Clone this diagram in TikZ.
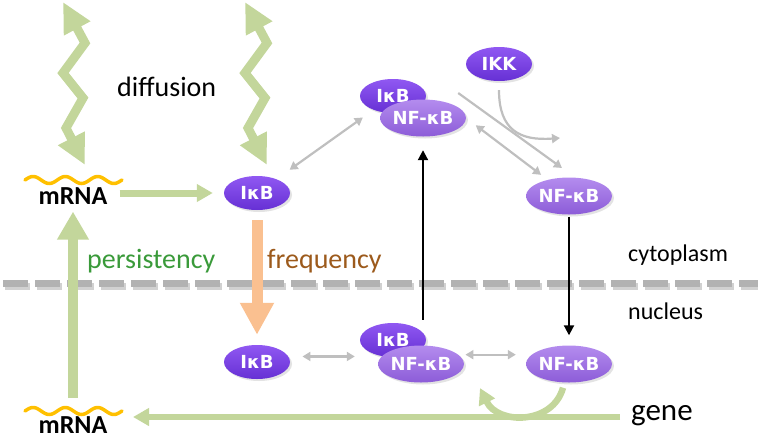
\documentclass[tikz,border=0pt]{standalone}
\usepackage{fontspec}
\setmainfont{Carlito}
\newfontfamily\protfont{DejaVu Sans}
\usetikzlibrary{shapes.geometric,arrows.meta,shadows}
\definecolor{leaf}{HTML}{C3D69B}
\definecolor{peach}{HTML}{FAC090}
\definecolor{ash}{HTML}{BFBFBF}
\definecolor{membrane}{HTML}{B2B2B2}
\definecolor{amber}{HTML}{FFC000}
\definecolor{moss}{HTML}{3A9A3A}
\definecolor{rust}{HTML}{9C5A1C}
\definecolor{grapetop}{HTML}{9058F2}
\definecolor{grapebot}{HTML}{6630D4}
\definecolor{lilactop}{HTML}{B48CEE}
\definecolor{lilacbot}{HTML}{8C5CD8}
\begin{document}
\begin{tikzpicture}[x=1pt, y=-1pt,
    prot/.style={ellipse, minimum width=66pt, minimum height=34pt, inner sep=0pt, text=white,
      font=\protfont\fontsize{18}{18}\selectfont\bfseries, top color=grapetop, bottom color=grapebot,
      drop shadow={opacity=0.22, shadow xshift=2pt, shadow yshift=-2pt}},
    nfkb/.style={prot, top color=lilactop, bottom color=lilacbot, minimum height=37pt},
    word/.style={anchor=base west, inner sep=0pt, font=\fontsize{28}{28}\selectfont},
    rna/.style={anchor=base, inner sep=0pt, font=\fontsize{26}{26}\selectfont\bfseries},
    wave/.style={amber, line width=3.5pt, line cap=round, domain=0:97, samples=80, smooth},
    swap/.style={ash, line width=2.2pt, {Triangle[length=8pt,width=9pt]}-{Triangle[length=8pt,width=9pt]}},
    oneway/.style={ash, line width=2.2pt, -{Triangle[length=8pt,width=9pt]}},
    signal/.style={black, line width=2pt, -{Triangle[length=10pt,width=10pt]}},
    leafarrow/.style={leaf, line width=6.5pt, -{Triangle[length=16pt,width=17pt]}}]
    \useasboundingbox (0,0) rectangle (758,440);
    \draw [black!18, line width=7pt, dash pattern=on 25pt off 7pt] (5,286) -- (760,286);
    \draw [membrane, line width=7pt, dash pattern=on 25pt off 7pt] (3,283) -- (758,283);
    \node [word, moss] at (87,268) {persistency};
    \node [word, rust] at (267,268) {frequency};
    \node [word] at (117,96) {diffusion};
    \node [word, font=\fontsize{24}{24}\selectfont] at (628,261) {cytoplasm};
    \node [word, font=\fontsize{24}{24}\selectfont] at (628,319) {nucleus};
    \node [word, font=\fontsize{31}{31}\selectfont] (gene) at (631,420) {gene};
    \draw [wave] plot ({25+\x}, {180-3.5*sin(\x/32.3*360)});
    \draw [wave] plot ({25+\x}, {411-3.5*sin(\x/32.3*360)});
    \node [rna] (mrnaA) at (73,204) {mRNA};
    \node [rna] (mrnaB) at (73,433) {mRNA};
    \coordinate (waveB) at (73,411);
    \node [prot] (ikbA) at (257,193) {IκB};
    \node [prot] (cplxI) at (393,96) {IκB};
    \node [nfkb] (cplxN) at (423,118) {NF-κB};
    \node [prot] (ikk) at (499,64) {IKK};
    \node [nfkb] (nfkbA) at (569,196) {NF-κB};
    \node [prot] (ikbB) at (257,362) {IκB};
    \node [prot] (cplxI2) at (393,340) {IκB};
    \node [nfkb] (cplxN2) at (421,364) {NF-κB};
    \node [nfkb] (nfkbB) at (569,364) {NF-κB};
    \coordinate (cut) at (560,138);
    \coordinate (dnaR) at (620,417);
    \coordinate (bind) at (480,388);
    \foreach \dx in {0,182}
        \draw [leaf, line width=9pt, {Triangle[length=30pt,width=28pt]}-{Triangle[length=30pt,width=28pt]}, xshift=\dx pt]
            (63,2) -- (85,43) -- (63,73) -- (83,98) -- (66,128) -- (85,165);
    \draw [leafarrow, line width=7pt, shorten <=12pt, shorten >=11pt] (mrnaA.east |- ikbA) -- (ikbA.west);
    \draw [leaf, line width=10pt, -{Triangle[length=28pt,width=30pt]}, shorten <=13pt, shorten >=16pt] (waveB) -- (mrnaA.center);
    \draw [peach, line width=11pt, -{Triangle[length=32pt,width=32pt]}, shorten <=10pt, shorten >=10pt] (ikbA.south) -- (ikbB.north);
    \draw [swap, shorten <=40pt, shorten >=37pt] (ikbA.center) -- (cplxI.center);
    \draw [swap, shorten <=12pt, shorten >=35pt] (cplxN.east) -- (nfkbA.center);
    \draw [oneway] ([xshift=32pt,yshift=3pt]cplxI.east) -- ([xshift=-7pt,yshift=28pt]nfkbA.center);
    \draw [oneway] ([yshift=-9pt]ikk.south) .. controls +(0,40) and +(-40,3) .. (cut);
    \draw [signal, shorten <=3pt, shorten >=13.5pt] (cplxN.south |- cplxI2.north) -- (cplxN.south);
    \draw [signal, shorten <=2pt, shorten >=10pt] (nfkbA.south) -- (nfkbB.north);
    \draw [swap, shorten <=14pt, shorten >=5pt] (ikbB.10) -- (ikbB.10 -| cplxI2.west);
    \draw [swap, shorten <=7pt, shorten >=10pt] (cplxN2.14) -- (cplxN2.14 -| nfkbB.west);
    \draw [leafarrow, shorten >=60pt] (dnaR) -- (dnaR -| waveB);
    \draw [leafarrow] ([xshift=-6pt,yshift=-5pt]nfkbB.south) .. controls +(-10,37) and +(18,37) .. (bind);
\end{tikzpicture}
\end{document}
